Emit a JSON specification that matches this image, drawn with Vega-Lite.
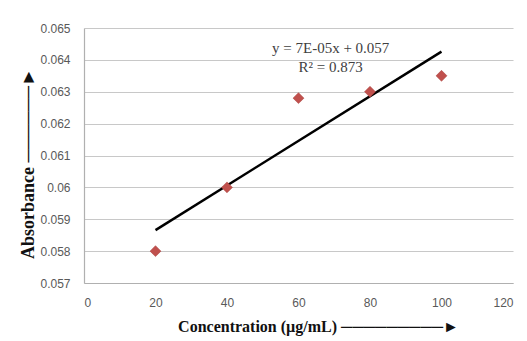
{
  "$schema": "https://vega.github.io/schema/vega-lite/v6.json",
  "width": 429,
  "height": 255,
  "autosize": {"type": "none"},
  "padding": {"left": 84, "top": 28, "right": 14, "bottom": 58},
  "background": "white",
  "config": {
    "view": {"stroke": null},
    "axis": {
      "labelFont": "Liberation Sans",
      "labelFontSize": 12,
      "labelColor": "#595959",
      "labelOverlap": false,
      "gridColor": "#c8c8c8",
      "gridWidth": 1.2,
      "domainColor": "#b0b0b0",
      "domainWidth": 1.2,
      "ticks": false,
      "titleFont": "Liberation Serif",
      "titleFontWeight": "bold",
      "titleFontSize": 16,
      "titleColor": "#111111"
    }
  },
  "datasets": {
    "points": [
      {"conc": 20, "abs": 0.0580},
      {"conc": 40, "abs": 0.0600},
      {"conc": 60, "abs": 0.0628},
      {"conc": 80, "abs": 0.0630},
      {"conc": 100, "abs": 0.0635}
    ],
    "notes": [
      {"conc": 69, "abs": 0.06438, "label": "y = 7E-05x + 0.057"},
      {"conc": 69, "abs": 0.06378, "label": "R² = 0.873"}
    ]
  },
  "layer": [
    {
      "data": {"name": "points"},
      "transform": [{"regression": "abs", "on": "conc", "extent": [20, 100]}],
      "mark": {"type": "line", "color": "#000000", "strokeWidth": 2.5},
      "encoding": {
        "x": {
          "field": "conc", "type": "quantitative",
          "scale": {"domain": [0, 120], "nice": false},
          "axis": {
            "values": [0, 20, 40, 60, 80, 100, 120],
            "grid": false,
            "labelPadding": 14,
            "title": "Concentration (µg/mL)   ─────────►",
            "titleX": 234, "titleY": 43,
            "titleAlign": "center", "titleBaseline": "middle"
          }
        },
        "y": {
          "field": "abs", "type": "quantitative",
          "scale": {"domain": [0.057, 0.065], "nice": false, "zero": false},
          "axis": {
            "values": [0.057, 0.058, 0.059, 0.06, 0.061, 0.062, 0.063, 0.064, 0.065],
            "tickCount": 9,
            "labelExpr": "datum.value == 0.06 ? '0.06' : format(datum.value, '.3f')",
            "labelPadding": 14,
            "title": "Absorbance ──────►",
            "titleFontSize": 18,
            "titleX": -56, "titleY": 135,
            "titleAngle": -90,
            "titleAlign": "center", "titleBaseline": "middle"
          }
        }
      }
    },
    {
      "data": {"name": "points"},
      "mark": {"type": "point", "shape": "diamond", "filled": true, "color": "#c0504d", "opacity": 1, "size": 120, "stroke": "#a8403d", "strokeWidth": 0.5},
      "encoding": {
        "x": {"field": "conc", "type": "quantitative"},
        "y": {"field": "abs", "type": "quantitative"}
      }
    },
    {
      "data": {"name": "notes"},
      "mark": {"type": "text", "font": "Liberation Serif", "fontSize": 15, "color": "#404040", "align": "center", "baseline": "middle"},
      "encoding": {
        "x": {"field": "conc", "type": "quantitative"},
        "y": {"field": "abs", "type": "quantitative"},
        "text": {"field": "label"}
      }
    }
  ]
}
